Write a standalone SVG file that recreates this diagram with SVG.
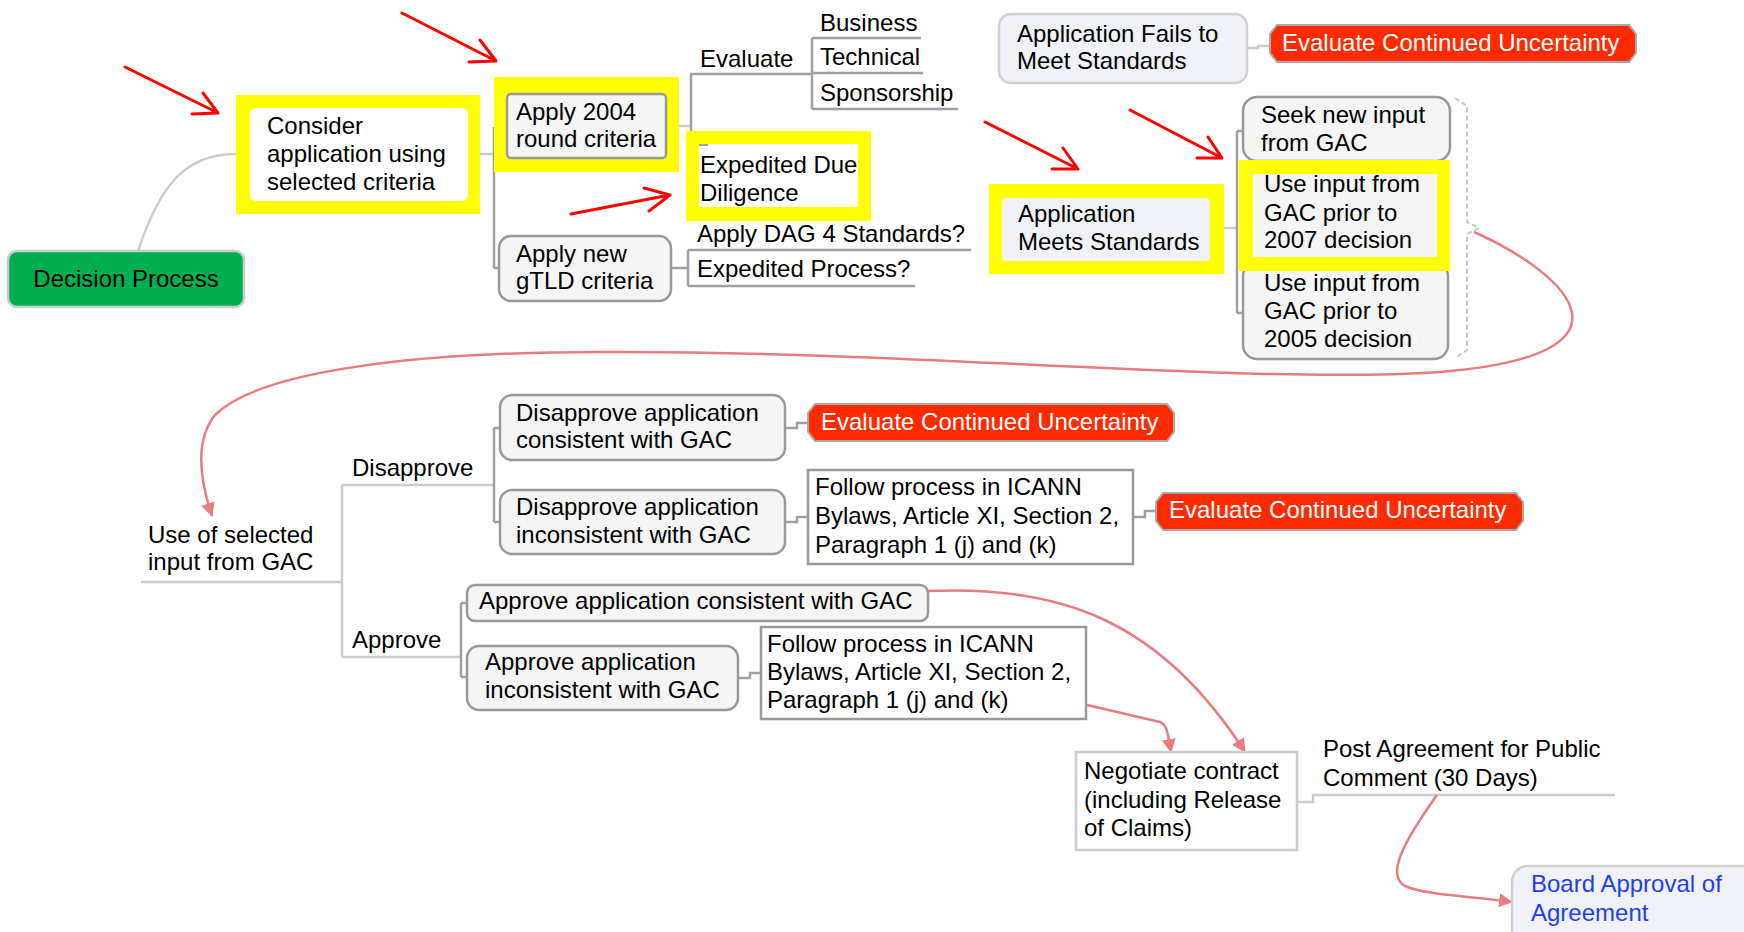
<svg xmlns="http://www.w3.org/2000/svg" width="1744" height="932" viewBox="0 0 1744 932">
<style>
.t{font-family:"Liberation Sans",Arial,sans-serif;font-size:24px;fill:#000}
.wt{fill:#fff}
.bt{fill:#1f3ff0}
.box{fill:#f5f5f5;stroke:#999;stroke-width:2.5}
.lt{fill:#f0f2f7;stroke:#d0d0d0;stroke-width:2.5}
.sq{fill:#fff;stroke:#999;stroke-width:2.5}
.hl{fill:#ffff00}
.red{fill:#ff2a00;stroke:#aaa;stroke-width:2}
.c1{fill:none;stroke:#cccccc;stroke-width:2.5}
.c2{fill:none;stroke:#a0a0a0;stroke-width:2.5}
.pk{fill:none;stroke:#e87c80;stroke-width:2.5}
.ann{fill:none;stroke:#ff0000;stroke-width:3;stroke-linecap:round;stroke-linejoin:round}
</style>
<defs>
<marker id="ah" markerWidth="14" markerHeight="14" refX="13" refY="7" orient="auto" markerUnits="userSpaceOnUse">
<path d="M0,0 L14,7 L0,14 Z" fill="#e87c80"/>
</marker>
</defs>
<rect width="1744" height="932" fill="#fff"/>
<g id="connectors">
<path class="c1" d="M138,251 C160,185 185,154 236,154"/>
<path class="c1" d="M480,154 H494"/>
<path class="c2" d="M494,127 V268 M494,127 H507 M494,268 H499"/>
<path class="c1" d="M679,126 H691"/>
<path class="c2" d="M691,145 V74 H812 M812,38 V109 M812,38 H921 M812,73 H923 M812,109 H958"/>
<path class="c2" d="M671,268 H688 M688,250 V286 M688,250 H971 M688,286 H915"/>
<path class="c1" d="M1247,48 H1258 V46 H1270"/>
<path class="c1" d="M1224,228 H1237"/>
<path class="c2" d="M1237,131 V313 M1237,131 H1243 M1237,313 H1243"/>
<path class="c1" d="M141,582 H342 M342,485 V657 M342,485 H493 M342,657 H461"/>
<path class="c2" d="M494,428 V522 M494,428 H500 M494,522 H500"/>
<path class="c2" d="M461,603 V677 M461,603 H467 M461,677 H467"/>
<path class="c2" d="M785,428 H797 V423 H808"/>
<path class="c2" d="M785,522 H797 V517 H808"/>
<path class="c2" d="M1133,517 H1145 V511 H1156"/>
<path class="c2" d="M738,678 H750 V673 H761"/>
<path class="c1" d="M1297,802 H1313 V795 H1615"/>
<path d="M1455,98 L1467,106 V222 L1479,228 L1467,234 V350 L1455,358" fill="none" stroke="#c8c8c8" stroke-width="2" stroke-dasharray="5,3"/>
<path class="pk" marker-end="url(#ah)" d="M1474,232 C1570,275 1650,355 1440,372 C1250,385 900,350 600,352 C420,352 260,370 215,415 C195,440 200,480 212,516"/>
<path class="pk" marker-end="url(#ah)" d="M928,591 C1060,585 1160,620 1245,752"/>
<path class="pk" marker-end="url(#ah)" d="M1087,705 L1160,722 Q1166,724 1168,735 L1171,752"/>
<path class="pk" marker-end="url(#ah)" d="M1437,795 C1405,840 1385,875 1405,886 C1425,895 1470,896 1512,902"/>
</g>
<g id="decision-process">
<rect x="8" y="251" width="236" height="56" rx="9" fill="#00b050" stroke="#cccccc" stroke-width="2.5"/>
<text class="t" x="126" y="287" text-anchor="middle">Decision Process</text>
</g>
<g id="consider">
<rect class="hl" x="236" y="95" width="244" height="119"/>
<rect x="250" y="108" width="218" height="93" rx="6" fill="#fff"/>
<text class="t" x="267" y="134">Consider</text>
<text class="t" x="267" y="162">application using</text>
<text class="t" x="267" y="190">selected criteria</text>
</g>
<g id="apply-2004">
<rect class="hl" x="494" y="77" width="185" height="95"/>
<rect class="box" x="507" y="94" width="159" height="64" rx="4"/>
<text class="t" x="516" y="120">Apply 2004</text>
<text class="t" x="516" y="147">round criteria</text>
</g>
<g id="expedited-due-diligence">
<rect class="hl" x="686" y="131" width="185" height="90"/>
<rect x="699" y="144" width="159" height="63" fill="#fff"/>
<path d="M699,145 H708" stroke="#a0a0a0" stroke-width="2"/>
<text class="t" x="700" y="173">Expedited Due</text>
<text class="t" x="700" y="201">Diligence</text>
</g>
<g id="evaluate">
<text class="t" x="700" y="67">Evaluate</text>
</g>
<g id="business"><text class="t" x="820" y="31">Business</text></g>
<g id="technical"><text class="t" x="820" y="65">Technical</text></g>
<g id="sponsorship"><text class="t" x="820" y="101">Sponsorship</text></g>
<g id="apply-new">
<rect class="box" x="499" y="236" width="172" height="65" rx="12"/>
<text class="t" x="516" y="262">Apply new</text>
<text class="t" x="516" y="289">gTLD criteria</text>
</g>
<g id="apply-dag"><text class="t" x="697" y="242">Apply DAG 4 Standards?</text></g>
<g id="expedited-process"><text class="t" x="697" y="277">Expedited Process?</text></g>
<g id="app-fails">
<rect class="lt" x="999" y="14" width="248" height="69" rx="12"/>
<text class="t" x="1017" y="42">Application Fails to</text>
<text class="t" x="1017" y="69">Meet Standards</text>
</g>
<g id="eval-uncertainty-1">
<path class="red" d="M1277,25 H1629 L1636,34 V53 L1629,62 H1277 L1270,53 V34 Z"/>
<text class="t wt" x="1282" y="51">Evaluate Continued Uncertainty</text>
</g>
<g id="app-meets">
<rect class="hl" x="989" y="184" width="235" height="90"/>
<rect x="1002" y="198" width="208" height="63" rx="4" fill="#f0f2f7"/>
<text class="t" x="1018" y="222">Application</text>
<text class="t" x="1018" y="250">Meets Standards</text>
</g>
<g id="seek-new-input">
<rect class="box" x="1243" y="97" width="207" height="64" rx="14"/>
<text class="t" x="1261" y="123">Seek new input</text>
<text class="t" x="1261" y="151">from GAC</text>
</g>
<g id="use-2005">
<rect class="box" x="1243" y="262" width="205" height="97" rx="14"/>
<text class="t" x="1264" y="291">Use input from</text>
<text class="t" x="1264" y="319">GAC prior to</text>
<text class="t" x="1264" y="347">2005 decision</text>
</g>
<g id="use-2007">
<rect class="hl" x="1239" y="160" width="211" height="111"/>
<rect x="1253" y="174" width="184" height="83" fill="#f5f5f5"/>
<text class="t" x="1264" y="192">Use input from</text>
<text class="t" x="1264" y="221">GAC prior to</text>
<text class="t" x="1264" y="248">2007 decision</text>
</g>
<g id="use-selected-input">
<text class="t" x="148" y="543">Use of selected</text>
<text class="t" x="148" y="570">input from GAC</text>
</g>
<g id="disapprove"><text class="t" x="352" y="476">Disapprove</text></g>
<g id="approve"><text class="t" x="352" y="648">Approve</text></g>
<g id="disapprove-consistent">
<rect class="box" x="500" y="395" width="285" height="65" rx="12"/>
<text class="t" x="516" y="421">Disapprove application</text>
<text class="t" x="516" y="448">consistent with GAC</text>
</g>
<g id="disapprove-inconsistent">
<rect class="box" x="500" y="490" width="285" height="64" rx="12"/>
<text class="t" x="516" y="515">Disapprove application</text>
<text class="t" x="516" y="543">inconsistent with GAC</text>
</g>
<g id="eval-uncertainty-2">
<path class="red" d="M815,404 H1167 L1174,413 V432 L1167,441 H815 L808,432 V413 Z"/>
<text class="t wt" x="821" y="430">Evaluate Continued Uncertainty</text>
</g>
<g id="follow-process-1">
<rect class="sq" x="808" y="470" width="325" height="94"/>
<text class="t" x="815" y="495">Follow process in ICANN</text>
<text class="t" x="815" y="524">Bylaws, Article XI, Section 2,</text>
<text class="t" x="815" y="553">Paragraph 1 (j) and (k)</text>
</g>
<g id="eval-uncertainty-3">
<path class="red" d="M1163,493 H1516 L1523,502 V521 L1516,530 H1163 L1156,521 V502 Z"/>
<text class="t wt" x="1169" y="518">Evaluate Continued Uncertainty</text>
</g>
<g id="approve-consistent">
<rect class="box" x="467" y="585" width="461" height="36" rx="8"/>
<text class="t" x="479" y="609">Approve application consistent with GAC</text>
</g>
<g id="approve-inconsistent">
<rect class="box" x="467" y="646" width="271" height="64" rx="12"/>
<text class="t" x="485" y="670">Approve application</text>
<text class="t" x="485" y="698">inconsistent with GAC</text>
</g>
<g id="follow-process-2">
<rect class="sq" x="761" y="627" width="325" height="92"/>
<text class="t" x="767" y="652">Follow process in ICANN</text>
<text class="t" x="767" y="680">Bylaws, Article XI, Section 2,</text>
<text class="t" x="767" y="708">Paragraph 1 (j) and (k)</text>
</g>
<g id="negotiate-contract">
<rect x="1076" y="752" width="221" height="98" fill="#fff" stroke="#cccccc" stroke-width="2.5"/>
<text class="t" x="1084" y="779">Negotiate contract</text>
<text class="t" x="1084" y="808">(including Release</text>
<text class="t" x="1084" y="836">of Claims)</text>
</g>
<g id="post-agreement">
<text class="t" x="1323" y="757">Post Agreement for Public</text>
<text class="t" x="1323" y="786">Comment (30 Days)</text>
</g>
<g id="board-approval">
<rect class="lt" x="1512" y="866" width="250" height="90" rx="16"/>
<text class="t bt" x="1531" y="892">Board Approval of</text>
<text class="t bt" x="1531" y="921">Agreement</text>
</g>
<g id="annotations">
<path class="ann" d="M125,67 L218,113 M203,93 L218,113 L192,114"/>
<path class="ann" d="M402,13 L496,61 M480,40 L496,61 L469,62"/>
<path class="ann" d="M571,214 L670,195 M644,188 L670,195 L649,211"/>
<path class="ann" d="M985,122 L1078,169 M1063,148 L1078,169 L1052,169"/>
<path class="ann" d="M1130,110 L1222,158 M1208,137 L1222,158 L1197,158"/>
</g>
</svg>
